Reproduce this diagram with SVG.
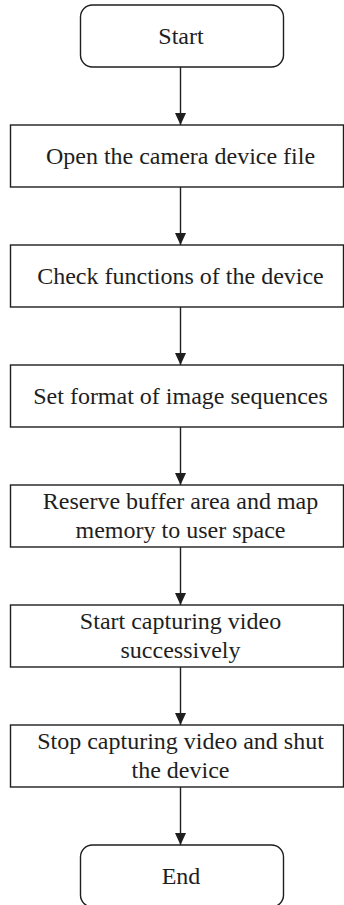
<svg xmlns="http://www.w3.org/2000/svg" width="344" height="905" viewBox="0 0 344 905">
  <style>
    .box { fill: #ffffff; stroke: #1e1e1e; stroke-width: 1.4; }
    .lbl { font-family: 'Liberation Serif', 'Times New Roman', 'DejaVu Serif', serif; font-size: 24px; fill: #1e1e1e; text-anchor: middle; }
    .edge { stroke: #1e1e1e; stroke-width: 1.4; fill: none; marker-end: url(#arrow); }
  </style>
  <defs>
    <!-- filled arrowhead, tip at the end of the line -->
    <marker id="arrow" markerWidth="12" markerHeight="11" refX="12" refY="5.5" orient="auto" markerUnits="userSpaceOnUse" viewBox="0 0 12 11">
      <path d="M0,0 L12,5.5 L0,11 Z" fill="#1e1e1e"/>
    </marker>
  </defs>
  <rect width="344" height="905" fill="#ffffff"/>

  <!-- flow steps -->
  <g id="start" font-family="Liberation Serif, serif">
    <rect class="box" x="80.5" y="5" width="203" height="62" rx="12"/>
    <text class="lbl" x="181" y="44">Start</text>
  </g>
  <g id="open-device" font-family="Liberation Serif, serif">
    <rect class="box" x="10.5" y="125" width="333" height="62"/>
    <text class="lbl" x="180.5" y="164">Open the camera device file</text>
  </g>
  <g id="check-functions" font-family="Liberation Serif, serif">
    <rect class="box" x="10.5" y="245" width="333" height="62"/>
    <text class="lbl" x="180.5" y="284">Check functions of the device</text>
  </g>
  <g id="set-format" font-family="Liberation Serif, serif">
    <rect class="box" x="10.5" y="365" width="333" height="62"/>
    <text class="lbl" x="180.5" y="404">Set format of image sequences</text>
  </g>
  <g id="reserve-buffer" font-family="Liberation Serif, serif">
    <rect class="box" x="10.5" y="485" width="333" height="62"/>
    <text class="lbl" x="180.5" y="509">Reserve buffer area and map</text>
    <text class="lbl" x="180.5" y="538">memory to user space</text>
  </g>
  <g id="start-capture" font-family="Liberation Serif, serif">
    <rect class="box" x="10.5" y="605" width="333" height="62"/>
    <text class="lbl" x="180.5" y="629">Start capturing video</text>
    <text class="lbl" x="180.5" y="658">successively</text>
  </g>
  <g id="stop-capture" font-family="Liberation Serif, serif">
    <rect class="box" x="10.5" y="725" width="333" height="62"/>
    <text class="lbl" x="180.5" y="749">Stop capturing video and shut</text>
    <text class="lbl" x="180.5" y="778">the device</text>
  </g>
  <g id="end" font-family="Liberation Serif, serif">
    <rect class="box" x="80.5" y="845" width="203" height="62" rx="12"/>
    <text class="lbl" x="181" y="884">End</text>
  </g>

  <!-- connectors -->
  <g id="connectors">
    <line class="edge" x1="180.5" y1="67" x2="180.5" y2="125"/>
    <line class="edge" x1="180.5" y1="187" x2="180.5" y2="245"/>
    <line class="edge" x1="180.5" y1="307" x2="180.5" y2="365"/>
    <line class="edge" x1="180.5" y1="427" x2="180.5" y2="485"/>
    <line class="edge" x1="180.5" y1="547" x2="180.5" y2="605"/>
    <line class="edge" x1="180.5" y1="667" x2="180.5" y2="725"/>
    <line class="edge" x1="180.5" y1="787" x2="180.5" y2="845"/>
  </g>
</svg>
